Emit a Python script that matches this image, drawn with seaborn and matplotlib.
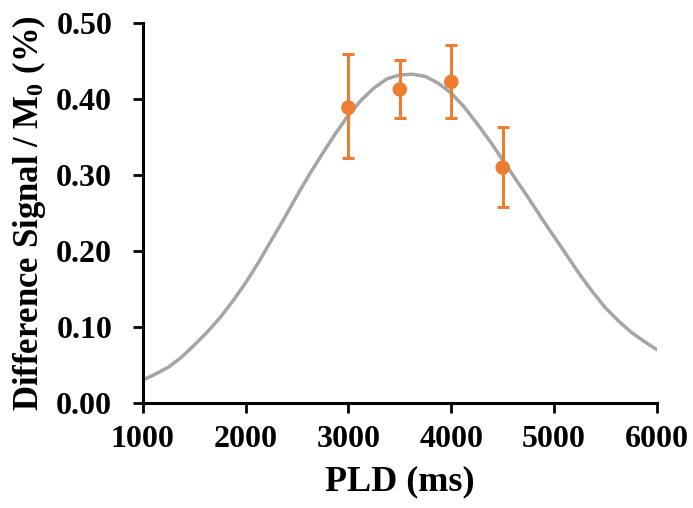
import numpy as np
import pandas as pd
import seaborn as sns
import matplotlib.pyplot as plt

# fitted curve
curve_pld = [1000, 1125, 1250, 1375, 1500, 1625, 1750, 1875, 2000, 2125, 2250, 2375,
             2500, 2625, 2750, 2875, 3000, 3125, 3250, 3375, 3500, 3625, 3750, 3875,
             4000, 4125, 4250, 4375, 4500, 4625, 4750, 4875, 5000, 5125, 5250, 5375,
             5500, 5625, 5750, 5875, 6000]
curve_signal = [0.030, 0.038, 0.047, 0.060, 0.076, 0.093, 0.112, 0.134, 0.158, 0.185, 0.214, 0.243,
                0.273, 0.302, 0.329, 0.355, 0.379, 0.399, 0.415, 0.427, 0.432, 0.433, 0.430, 0.421,
                0.408, 0.390, 0.368, 0.345, 0.320, 0.295, 0.270, 0.244, 0.219, 0.194, 0.169, 0.146,
                0.125, 0.108, 0.093, 0.081, 0.070]

# measured points with error bars
meas_pld = [3000, 3500, 4000, 4500]
meas_signal = [0.389, 0.413, 0.423, 0.310]
err_low = [0.067, 0.038, 0.048, 0.052]
err_high = [0.070, 0.039, 0.048, 0.054]

x_ticks = [1000, 2000, 3000, 4000, 5000, 6000]
y_ticks = [0.0, 0.1, 0.2, 0.3, 0.4, 0.5]

sns.set_style("ticks")
plt.rcParams['font.family'] = ['Liberation Serif', 'DejaVu Serif']
plt.rcParams['font.weight'] = 'bold'
plt.rcParams['text.color'] = 'black'
plt.rcParams['axes.labelcolor'] = 'black'
plt.rcParams['xtick.color'] = 'black'
plt.rcParams['ytick.color'] = 'black'
plt.rcParams['mathtext.fontset'] = 'custom'
plt.rcParams['mathtext.rm'] = 'Liberation Serif:bold'
plt.rcParams['mathtext.it'] = 'Liberation Serif:bold'
plt.rcParams['mathtext.bf'] = 'Liberation Serif:bold'

curve_df = pd.DataFrame({"pld": curve_pld, "signal": curve_signal})
meas_df = pd.DataFrame({"pld": meas_pld, "signal": meas_signal})

fig = plt.figure(figsize=(6.93, 5.08), dpi=100)
ax = fig.add_axes([0.206, 0.207, 0.742, 0.747])

sns.lineplot(data=curve_df, x="pld", y="signal", color="#A5A5A5", linewidth=2.5, ax=ax)
ax.errorbar(meas_pld, meas_signal, yerr=[err_low, err_high], fmt="none",
            ecolor="#ED7D31", elinewidth=2.2, capsize=4, capthick=2.2, zorder=3)
sns.scatterplot(data=meas_df, x="pld", y="signal", color="#ED7D31", s=110,
                edgecolor="none", ax=ax, zorder=4)

ax.set_xlim(1000, 6000)
ax.set_ylim(0, 0.5)
ax.set_xticks(x_ticks)
ax.set_yticks(y_ticks)
ax.set_xticklabels([str(v) for v in x_ticks])
ax.set_yticklabels([f"{v:.2f}" for v in y_ticks])
sns.despine(ax=ax)
for s in ["left", "bottom"]:
    ax.spines[s].set_linewidth(2.2)
    ax.spines[s].set_color("black")
ax.tick_params(axis="both", length=7, width=2, colors="black", labelsize=23)
ax.tick_params(axis="x", pad=9)
ax.tick_params(axis="y", pad=15)

ax.set_xlabel("PLD (ms)", fontsize=26, fontweight="bold", labelpad=8, color="black")
ax.set_ylabel(r"Difference Signal / M$_0$ (%)", fontsize=25, fontweight="bold", color="black")
ax.yaxis.set_label_coords(-0.185, 0.5)

plt.savefig("out.png", dpi=100)
